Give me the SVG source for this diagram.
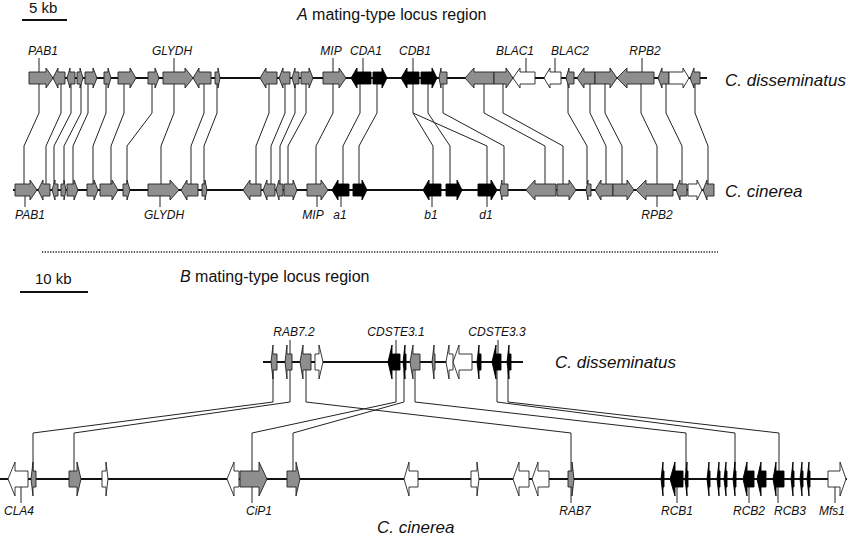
<svg xmlns="http://www.w3.org/2000/svg" width="847" height="537" viewBox="0 0 847 537">
<style>
.bb{stroke:#111;stroke-width:1.8;fill:none}
.cn{stroke:#222;stroke-width:1;fill:none}
.tk{stroke:#222;stroke-width:1}
.g{fill:#8e8e8e;stroke:#222;stroke-width:0.9}
.b{fill:#000;stroke:#000;stroke-width:0.9}
.w{fill:#fff;stroke:#222;stroke-width:0.9}
.lb{font-family:"Liberation Sans",Arial,sans-serif;font-size:12px;font-style:italic;text-anchor:middle;fill:#111}
.sp{font-family:"Liberation Sans",Arial,sans-serif;font-size:17px;font-style:italic;fill:#111}
.tt{font-family:"Liberation Sans",Arial,sans-serif;font-size:16px;fill:#111}
</style>
<rect width="847" height="537" fill="#fff"/>

<!-- headers -->
<g id="scaleA"><text class="tt" x="29" y="13" style="font-size:15px">5 kb</text><line x1="22" y1="20" x2="67" y2="20" stroke="#111" stroke-width="2"/></g>
<text class="tt" x="297" y="20"><tspan font-style="italic">A</tspan> mating-type locus region</text>
<line x1="42" y1="252" x2="718" y2="252" stroke="#222" stroke-width="1.3" stroke-dasharray="1.3 1.4"/>
<g id="scaleB"><text class="tt" x="35" y="284" style="font-size:15px">10 kb</text><line x1="20" y1="292" x2="88" y2="292" stroke="#111" stroke-width="2"/></g>
<text class="tt" x="180" y="282"><tspan font-style="italic">B</tspan> mating-type locus region</text>

<!-- connectors -->
<g id="connectors">
<g id="connA">
<path class="cn" d="M39 84V113L24 146V184"/>
<path class="cn" d="M61 84V113L46 146V184"/>
<path class="cn" d="M71 84V113L54 146V184"/>
<path class="cn" d="M81 84V113L64 146V184"/>
<path class="cn" d="M88 84V113L73 146V184"/>
<path class="cn" d="M106 84V113L93 146V184"/>
<path class="cn" d="M124 84V113L111 146V184"/>
<path class="cn" d="M152 84V113L127 146V184"/>
<path class="cn" d="M174 84V113L161 146V184"/>
<path class="cn" d="M204 84V113L191 146V184"/>
<path class="cn" d="M217 84V113L204 146V184"/>
<path class="cn" d="M269 84V113L256 146V184"/>
<path class="cn" d="M285 84V113L271 146V184"/>
<path class="cn" d="M295 84V113L280 146V184"/>
<path class="cn" d="M306 84V113L288 146V184"/>
<path class="cn" d="M333 84V113L316 146V184"/>
<path class="cn" d="M360 84V113L343 146V184"/>
<path class="cn" d="M377 84V113L359 146V184"/>
<path class="cn" d="M413 84V113L433 146V184"/>
<path class="cn" d="M413 113L487 146V184"/>
<path class="cn" d="M428 84V113L450 146V184"/>
<path class="cn" d="M443 84V113L504 146V184"/>
<path class="cn" d="M484 84V113L545 146V184"/>
<path class="cn" d="M503 84V113L563 146V184"/>
<path class="cn" d="M568 84V113L587 146V184"/>
<path class="cn" d="M590 84V113L606 146V184"/>
<path class="cn" d="M605 84V113L622 146V184"/>
<path class="cn" d="M641 84V113L657 146V184"/>
<path class="cn" d="M666 84V113L682 146V184"/>
<path class="cn" d="M695 84V113L708 146V184"/>
</g>
<g id="connB">
<path class="cn" d="M273 370V402L33 433V471"/>
<path class="cn" d="M290 370V402L74 433V471"/>
<path class="cn" d="M306 370V402L571 433V471"/>
<path class="cn" d="M396 370V402L252 433V471"/>
<path class="cn" d="M404 370V402L293 433V471"/>
<path class="cn" d="M415 370V402L686 433V471"/>
<path class="cn" d="M497 370V402L735 433V471"/>
<path class="cn" d="M508 370V402L779 433V471"/>
</g>
</g>

<!-- backbones -->
<line class="bb" x1="29" y1="78" x2="707" y2="78"/>
<line class="bb" x1="13" y1="190" x2="714" y2="190"/>
<line class="bb" x1="263" y1="362" x2="523" y2="362"/>
<line class="bb" x1="0" y1="479" x2="847" y2="479"/>

<text class="sp" x="725" y="86">C. disseminatus</text>
<text class="sp" x="725" y="197">C. cinerea</text>
<text class="sp" x="555" y="368">C. disseminatus</text>
<text class="sp" x="377" y="533">C. cinerea</text>

<!-- A top: C. disseminatus -->
<g id="A-dis">
<g id="a1-PAB1"><line class="tk" x1="39" y1="58" x2="39" y2="72"/><path class="g" d="M29 72H46V68L53 78L46 88V84H29Z"/><text class="lb" x="43" y="55">PAB1</text></g>
<g id="a2"><path class="g" d="M53 78L58 68V72H65V84H58V88Z"/></g>
<g id="a3"><path class="g" d="M67 78L70 68V72H75V84H70V88Z"/></g>
<g id="a4"><path class="g" d="M77 72H80V68L83 78L80 88V84H77Z"/></g>
<g id="a5"><path class="g" d="M85 72H93V68L97 78L93 88V84H85Z"/></g>
<g id="a6"><path class="g" d="M104 72H108V68L111 78L108 88V84H104Z"/></g>
<g id="a7"><path class="g" d="M118 72H130V68L136 78L130 88V84H118Z"/></g>
<g id="a8"><path class="g" d="M148 72H155V68L159 78L155 88V84H148Z"/></g>
<g id="a9-GLYDH"><line class="tk" x1="174" y1="58" x2="174" y2="72"/><path class="g" d="M163 72H185V68L193 78L185 88V84H163Z"/><text class="lb" x="172" y="55">GLYDH</text></g>
<g id="a10"><path class="g" d="M193 78L199 68V72H211V84H199V88Z"/></g>
<g id="a11"><path class="g" d="M215 72H218V68L220 78L218 88V84H215Z"/></g>
<g id="a12"><path class="g" d="M260 78L266 68V72H277V84H266V88Z"/></g>
<g id="a13"><path class="g" d="M279 78L283 68V72H290V84H283V88Z"/></g>
<g id="a14"><path class="g" d="M292 78L295 68V72H299V84H295V88Z"/></g>
<g id="a15"><path class="g" d="M301 72H309V68L313 78L309 88V84H301Z"/></g>
<g id="a16-MIP"><line class="tk" x1="333" y1="58" x2="333" y2="72"/><path class="g" d="M323 72H339V68L346 78L339 88V84H323Z"/><text class="lb" x="331" y="55">MIP</text></g>
<g id="a17-CDA1"><line class="tk" x1="363" y1="58" x2="363" y2="72"/><path class="b" d="M351 78L357 68V72H371V84H357V88Z"/><text class="lb" x="366" y="55">CDA1</text></g>
<g id="a18"><path class="b" d="M373 72H382V68L387 78L382 88V84H373Z"/></g>
<g id="a19-CDB1"><line class="tk" x1="413" y1="58" x2="413" y2="72"/><path class="b" d="M401 78L407 68V72H419V84H407V88Z"/><text class="lb" x="415" y="55">CDB1</text></g>
<g id="a20"><path class="b" d="M421 72H432V68L437 78L432 88V84H421Z"/></g>
<g id="a21"><path class="g" d="M439 78L441 68V72H447V84H441V88Z"/></g>
<g id="a22"><path class="g" d="M465 78L474 68V72H494V84H474V88Z"/></g>
<g id="a23"><path class="g" d="M494 72H506V68L513 78L506 88V84H494Z"/></g>
<g id="a24-BLAC1"><line class="tk" x1="526" y1="58" x2="526" y2="72"/><path class="w" d="M513 78L520 68V72H535V84H520V88Z"/><text class="lb" x="515" y="55">BLAC1</text></g>
<g id="a25-BLAC2"><line class="tk" x1="555" y1="58" x2="555" y2="72"/><path class="w" d="M544 78L550 68V72H561V84H550V88Z"/><text class="lb" x="570" y="55">BLAC2</text></g>
<g id="a26"><path class="g" d="M566 78L569 68V72H574V84H569V88Z"/></g>
<g id="a27"><path class="g" d="M577 78L584 68V72H595V84H584V88Z"/></g>
<g id="a28"><path class="g" d="M595 72H610V68L617 78L610 88V84H595Z"/></g>
<g id="a29-RPB2"><line class="tk" x1="642" y1="58" x2="642" y2="72"/><path class="g" d="M617 78L627 68V72H654V84H627V88Z"/><text class="lb" x="645" y="55">RPB2</text></g>
<g id="a30"><path class="g" d="M658 78L662 68V72H669V84H662V88Z"/></g>
<g id="a31"><path class="w" d="M669 72H683V68L689 78L683 88V84H669Z"/></g>
<g id="a32"><path class="g" d="M690 78L694 68V72H700V84H694V88Z"/></g>
</g>

<!-- A bottom: C. cinerea -->
<g id="A-cin">
<g id="c1-PAB1"><line class="tk" x1="25" y1="196" x2="25" y2="207"/><path class="g" d="M15 184H30V180L37 190L30 200V196H15Z"/><text class="lb" x="30" y="219">PAB1</text></g>
<g id="c2"><path class="g" d="M38 190L43 180V184H50V196H43V200Z"/></g>
<g id="c3"><path class="g" d="M52 190L55 180V184H58V196H55V200Z"/></g>
<g id="c4"><path class="g" d="M61 184H64V180L66 190L64 200V196H61Z"/></g>
<g id="c5"><path class="g" d="M67 184H74V180L78 190L74 200V196H67Z"/></g>
<g id="c6"><path class="g" d="M87 184H94V180L98 190L94 200V196H87Z"/></g>
<g id="c7"><path class="g" d="M100 184H112V180L118 190L112 200V196H100Z"/></g>
<g id="c8"><path class="g" d="M123 184H127V180L130 190L127 200V196H123Z"/></g>
<g id="c9-GLYDH"><line class="tk" x1="160" y1="196" x2="160" y2="207"/><path class="g" d="M148 184H170V180L179 190L170 200V196H148Z"/><text class="lb" x="164" y="219">GLYDH</text></g>
<g id="c10"><path class="g" d="M181 190L187 180V184H198V196H187V200Z"/></g>
<g id="c11"><path class="g" d="M202 184H205V180L207 190L205 200V196H202Z"/></g>
<g id="c12"><path class="g" d="M243 190L250 180V184H261V196H250V200Z"/></g>
<g id="c13"><path class="g" d="M263 190L267 180V184H275V196H267V200Z"/></g>
<g id="c14"><path class="g" d="M276 190L279 180V184H283V196H279V200Z"/></g>
<g id="c15"><path class="g" d="M284 184H293V180L297 190L293 200V196H284Z"/></g>
<g id="c16-MIP"><line class="tk" x1="317" y1="196" x2="317" y2="207"/><path class="g" d="M307 184H321V180L328 190L321 200V196H307Z"/><text class="lb" x="313" y="219">MIP</text></g>
<g id="c17-a1"><line class="tk" x1="341" y1="196" x2="341" y2="207"/><path class="b" d="M332 190L338 180V184H349V196H338V200Z"/><text class="lb" x="340" y="219">a1</text></g>
<g id="c18"><path class="b" d="M353 184H362V180L367 190L362 200V196H353Z"/></g>
<g id="c19-b1"><line class="tk" x1="432" y1="196" x2="432" y2="207"/><path class="b" d="M423 190L429 180V184H441V196H429V200Z"/><text class="lb" x="431" y="219">b1</text></g>
<g id="c20"><path class="b" d="M446 184H457V180L462 190L457 200V196H446Z"/></g>
<g id="c21-d1"><line class="tk" x1="487" y1="196" x2="487" y2="207"/><path class="b" d="M478 184H491V180L497 190L491 200V196H478Z"/><text class="lb" x="486" y="219">d1</text></g>
<g id="c22"><path class="g" d="M500 190L502 180V184H508V196H502V200Z"/></g>
<g id="c23"><path class="g" d="M526 190L535 180V184H556V196H535V200Z"/></g>
<g id="c24"><path class="g" d="M557 184H569V180L576 190L569 200V196H557Z"/></g>
<g id="c25"><path class="g" d="M586 190L588 180V184H591V196H588V200Z"/></g>
<g id="c26"><path class="g" d="M595 190L601 180V184H613V196H601V200Z"/></g>
<g id="c27"><path class="g" d="M613 184H627V180L634 190L627 200V196H613Z"/></g>
<g id="c28-RPB2"><line class="tk" x1="657" y1="196" x2="657" y2="207"/><path class="g" d="M636 190L646 180V184H673V196H646V200Z"/><text class="lb" x="657" y="219">RPB2</text></g>
<g id="c29"><path class="g" d="M676 190L680 180V184H687V196H680V200Z"/></g>
<g id="c30"><path class="w" d="M688 184H697V180L702 190L697 200V196H688Z"/></g>
<g id="c31"><path class="g" d="M703 190L707 180V184H714V196H707V200Z"/></g>
</g>

<!-- B top: C. disseminatus -->
<g id="B-dis">
<g id="bd1"><path class="g" d="M271 362L273 345V354H277V370H273V379Z"/></g>
<g id="bd2-RAB7.2"><line class="tk" x1="290" y1="340" x2="290" y2="354"/><path class="g" d="M285 362L287 345V354H292V370H287V379Z"/><text class="lb" x="294" y="336">RAB7.2</text></g>
<g id="bd3"><path class="g" d="M300 362L303 345V354H311V370H303V379Z"/></g>
<g id="bd4"><path class="w" d="M315 354H319V345L323 362L319 379V370H315Z"/></g>
<g id="bd5-CDSTE3.1"><line class="tk" x1="396" y1="340" x2="396" y2="354"/><path class="b" d="M388 362L392 345V354H400V370H392V379Z"/><text class="lb" x="396" y="336">CDSTE3.1</text></g>
<g id="bd6"><path class="b" d="M403 362L405 345V354H406V370H405V379Z"/></g>
<g id="bd7"><path class="g" d="M410 362L413 345V354H420V370H413V379Z"/></g>
<g id="bd8"><path class="g" d="M432 362L434 345V354H435V370H434V379Z"/></g>
<g id="bd9"><path class="w" d="M446 362L449 345V354H453V370H449V379Z"/></g>
<g id="bd10"><path class="w" d="M453 362L459 345V354H472V370H459V379Z"/></g>
<g id="bd11"><path class="b" d="M477 362L479 345V354H481V370H479V379Z"/></g>
<g id="bd12-CDSTE3.3"><line class="tk" x1="498" y1="340" x2="498" y2="354"/><path class="b" d="M492 362L496 345V354H501V370H496V379Z"/><text class="lb" x="497" y="336">CDSTE3.3</text></g>
<g id="bd13"><path class="b" d="M507 362L509 345V354H511V370H509V379Z"/></g>
</g>

<!-- B bottom: C. cinerea -->
<g id="B-cin">
<g id="bc1-CLA4"><line class="tk" x1="21" y1="487" x2="21" y2="503"/><path class="w" d="M8 479L15 462V471H28V487H15V496Z"/><text class="lb" x="19" y="515">CLA4</text></g>
<g id="bc2"><path class="g" d="M31 479L33 462V471H36V487H33V496Z"/></g>
<g id="bc3"><path class="g" d="M69 471H77V462L81 479L77 496V487H69Z"/></g>
<g id="bc4"><path class="w" d="M102 471H106V462L108 479L106 496V487H102Z"/></g>
<g id="bc5"><path class="w" d="M227 479L234 462V471H239V487H234V496Z"/></g>
<g id="bc6-CiP1"><line class="tk" x1="252" y1="487" x2="252" y2="503"/><path class="g" d="M240 471H259V462L267 479L259 496V487H240Z"/><text class="lb" x="259" y="515">CiP1</text></g>
<g id="bc7"><path class="g" d="M287 471H296V462L300 479L296 496V487H287Z"/></g>
<g id="bc8"><path class="w" d="M404 479L409 462V471H418V487H409V496Z"/></g>
<g id="bc9"><path class="w" d="M471 471H477V462L479 479L477 496V487H471Z"/></g>
<g id="bc10"><path class="w" d="M513 479L519 462V471H529V487H519V496Z"/></g>
<g id="bc11"><path class="w" d="M532 479L538 462V471H549V487H538V496Z"/></g>
<g id="bc12-RAB7"><line class="tk" x1="571" y1="487" x2="571" y2="503"/><path class="g" d="M568 471H572V462L574 479L572 496V487H568Z"/><text class="lb" x="575" y="515">RAB7</text></g>
<g id="bc13"><path class="b" d="M661 479L663 462V471H664V487H663V496Z"/></g>
<g id="bc14-RCB1"><line class="tk" x1="677" y1="487" x2="677" y2="503"/><path class="b" d="M670 479L675 462V471H683V487H675V496Z"/><text class="lb" x="677" y="515">RCB1</text></g>
<g id="bc15"><path class="b" d="M685 479L687 462V471H688V487H687V496Z"/></g>
<g id="bc16"><path class="b" d="M707 479L709 462V471H710V487H709V496Z"/></g>
<g id="bc17"><path class="b" d="M717 479L719 462V471H720V487H719V496Z"/></g>
<g id="bc18"><path class="b" d="M724 479L726 462V471H727V487H726V496Z"/></g>
<g id="bc19"><path class="b" d="M733 479L735 462V471H736V487H735V496Z"/></g>
<g id="bc20-RCB2"><line class="tk" x1="749" y1="487" x2="749" y2="503"/><path class="b" d="M743 479L747 462V471H754V487H747V496Z"/><text class="lb" x="749" y="515">RCB2</text></g>
<g id="bc21"><path class="b" d="M757 479L761 462V471H766V487H761V496Z"/></g>
<g id="bc22-RCB3"><line class="tk" x1="778" y1="487" x2="778" y2="503"/><path class="b" d="M773 479L776 462V471H784V487H776V496Z"/><text class="lb" x="790" y="515">RCB3</text></g>
<g id="bc23"><path class="b" d="M791 479L793 462V471H794V487H793V496Z"/></g>
<g id="bc24"><path class="b" d="M800 479L802 462V471H803V487H802V496Z"/></g>
<g id="bc25"><path class="b" d="M807 479L809 462V471H810V487H809V496Z"/></g>
<g id="bc26-Mfs1"><line class="tk" x1="835" y1="487" x2="835" y2="503"/><path class="w" d="M828 471H840V462L846 479L840 496V487H828Z"/><text class="lb" x="832" y="515">Mfs1</text></g>
</g>
</svg>
